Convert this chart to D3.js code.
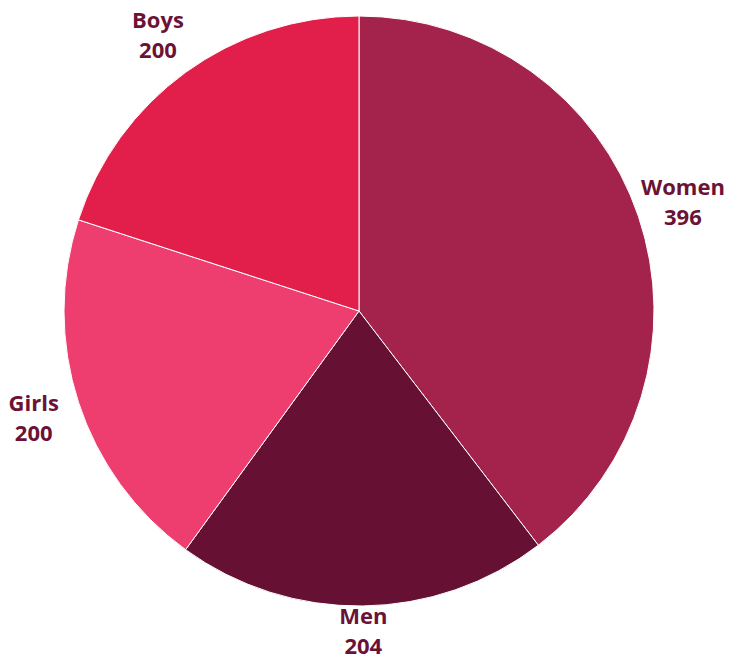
<!DOCTYPE html>
<html>
<head>
<meta charset="utf-8">
<script src="https://cdn.jsdelivr.net/npm/d3@7"></script>
<style>
  html, body { margin: 0; padding: 0; background: #fff; }
  text { font-family: "Open Sans", "Noto Sans", sans-serif; font-weight: 700; }
</style>
</head>
<body>
<div id="chart"></div>
<script>
// data
var categories = ["Women", "Men", "Girls", "Boys"];
var values = [396, 204, 200, 200];
var colors = ["#a4234d", "#661133", "#ee3e6f", "#e21e4b"];

var width = 745, height = 662;
var cx = 359, cy = 311, radius = 295;

var svg = d3.select("#chart").append("svg")
    .attr("width", width)
    .attr("height", height);

var g = svg.append("g")
    .attr("transform", "translate(" + cx + "," + cy + ")");

var pie = d3.pie().sort(null).value(function(d) { return d; });
var arcs = pie(values);

var arc = d3.arc().innerRadius(0).outerRadius(radius);
var labelArc = d3.arc().innerRadius(342).outerRadius(342);

g.selectAll("path")
  .data(arcs)
  .enter().append("path")
    .attr("d", arc)
    .attr("fill", function(d, i) { return colors[i]; })
    .attr("stroke", "#fff")
    .attr("stroke-width", 1);

// label groups: name on first line, value on second
var labels = g.selectAll(".lbl")
  .data(arcs)
  .enter().append("g")
    .attr("class", "lbl")
    .attr("transform", function(d) {
      var c = labelArc.centroid(d);
      // keep label inside the picture
      var maxY = height - cy - 32;
      if (c[1] > maxY) c[1] = maxY;
      return "translate(" + c[0] + "," + c[1] + ")";
    });

labels.append("text")
    .attr("text-anchor", "middle")
    .attr("fill", "#6b1236")
    .style("font-size", "22px")
    .attr("y", -6)
    .text(function(d, i) { return categories[i]; });

labels.append("text")
    .attr("text-anchor", "middle")
    .attr("fill", "#6b1236")
    .style("font-size", "22px")
    .attr("y", 24)
    .text(function(d) { return d.value; });
</script>
</body>
</html>
